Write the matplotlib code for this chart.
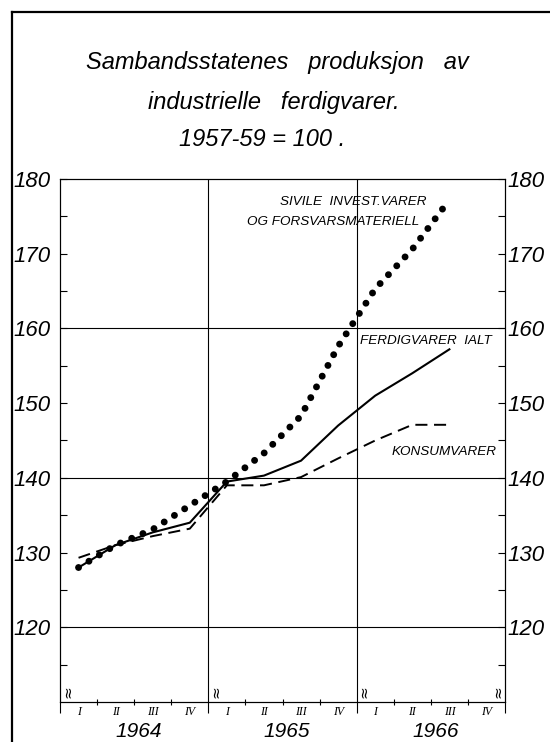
import matplotlib
matplotlib.use('Agg')
import matplotlib.pyplot as plt
from matplotlib.lines import Line2D

# data (index 1957-59 = 100), quarterly, 1964 I - 1966 III
quarters = ['I', 'II', 'III', 'IV'] * 3
years = ['1964', '1965', '1966']
ialt = [128.0, 131.0, 132.7, 134.0, 139.5, 140.3, 142.3, 147.0, 151.0, 154.0, 157.2]
konsum = [129.3, 131.0, 132.2, 133.2, 139.0, 139.0, 140.1, 142.6, 145.0, 147.1, 147.1]
sivile = [128.0, 131.0, 133.1, 136.3, 139.5, 143.3, 148.3, 157.6, 165.3, 170.6, 177.2]
yticks = [120, 130, 140, 150, 160, 170, 180]

xs = [i + 0.5 for i in range(len(ialt))]

font = 'Liberation Sans'

fig = plt.figure(figsize=(5.5, 7.42), dpi=100)
ax = fig.add_axes([0.1091, 0.0539, 0.8091, 0.7049])

# linjer
ax.plot(xs, sivile, color='black', lw=5, linestyle=(0, (0.001, 1.75)),
        dash_capstyle='round', zorder=3)
ax.plot(xs, ialt, color='black', lw=1.5, zorder=4)
ax.plot(xs, konsum, color='black', lw=1.4, linestyle=(0, (6.2, 3.4)), zorder=4)

ax.set_xlim(0, 12)
ax.set_ylim(110, 180)

# rutenett
for v in [120, 140, 160]:
    ax.axhline(v, color='black', lw=0.8, zorder=1)
for v in [4, 8]:
    ax.axvline(v, color='black', lw=0.8, zorder=1)

for s in ax.spines.values():
    s.set_linewidth(0.8)

minor_y = [115, 125, 135, 145, 155, 165, 175]

# venstre y-akse
ax.set_yticks(yticks)
ax.set_yticks(minor_y, minor=True)
ax.set_yticklabels([str(t) for t in yticks], family=font, style='italic', fontsize=16)
ax.tick_params(axis='y', which='both', direction='in', length=5, width=0.8, pad=7)

# hoyre y-akse
ax2 = ax.twinx()
ax2.set_ylim(110, 180)
ax2.set_yticks(yticks)
ax2.set_yticks(minor_y, minor=True)
ax2.set_yticklabels([str(t) for t in yticks], family=font, style='italic', fontsize=16)
ax2.tick_params(axis='y', which='both', direction='in', length=5, width=0.8, pad=2)
for s in ax2.spines.values():
    s.set_linewidth(0.8)

# x-akse
ax.set_xticks([0, 4, 8, 12])
ax.set_xticks([1, 2, 3, 5, 6, 7, 9, 10, 11], minor=True)
ax.set_xticklabels([])
ax.tick_params(axis='x', which='major', direction='out', length=8, width=0.8)
ax.tick_params(axis='x', which='minor', direction='inout', length=5, width=0.8)

for i, q in enumerate(quarters):
    ax.text(i + 0.5, 108.6, q, ha='center', va='center', fontsize=8.5,
            family='Liberation Serif', style='italic')
for i, y in enumerate(years):
    ax.text(4 * i + 2.12, 105.35, y, ha='center', va='baseline', fontsize=15,
            family=font, style='italic')

# brudd-tegn
for bx in [0.2, 4.2, 8.2, 11.8]:
    ax.text(bx, 111.4, '≈', rotation=90, ha='center', va='center', fontsize=11)

# tekst til linjene
lab_kw = dict(fontsize=9.7, family=font, style='italic', va='center')
ax.text(5.93, 176.9, 'SIVILE  INVEST.VARER', **lab_kw)
ax.text(9.7, 174.3, 'OG FORSVARSMATERIELL', ha='right', **lab_kw)
ax.text(8.09, 158.3, 'FERDIGVARER  IALT', **lab_kw)
ax.text(11.78, 143.4, 'KONSUMVARER', ha='right', **lab_kw)

# tittel
tkw = dict(ha='center', va='center', fontsize=17, family=font, style='italic')
fig.text(277 / 550, 1 - 62 / 742, 'Sambandsstatenes   produksjon   av', **tkw)
fig.text(274 / 550, 1 - 103 / 742, 'industrielle   ferdigvarer.', **tkw)
fig.text(262 / 550, 1 - 139 / 742, '1957-59 = 100 .', **tkw)

# ramme
fig.add_artist(Line2D([12 / 550, 12 / 550], [0, 1 - 12 / 742], color='black', lw=1.6))
fig.add_artist(Line2D([12 / 550, 1], [1 - 12 / 742, 1 - 12 / 742], color='black', lw=1.6))

fig.savefig('out.png', dpi=100)
